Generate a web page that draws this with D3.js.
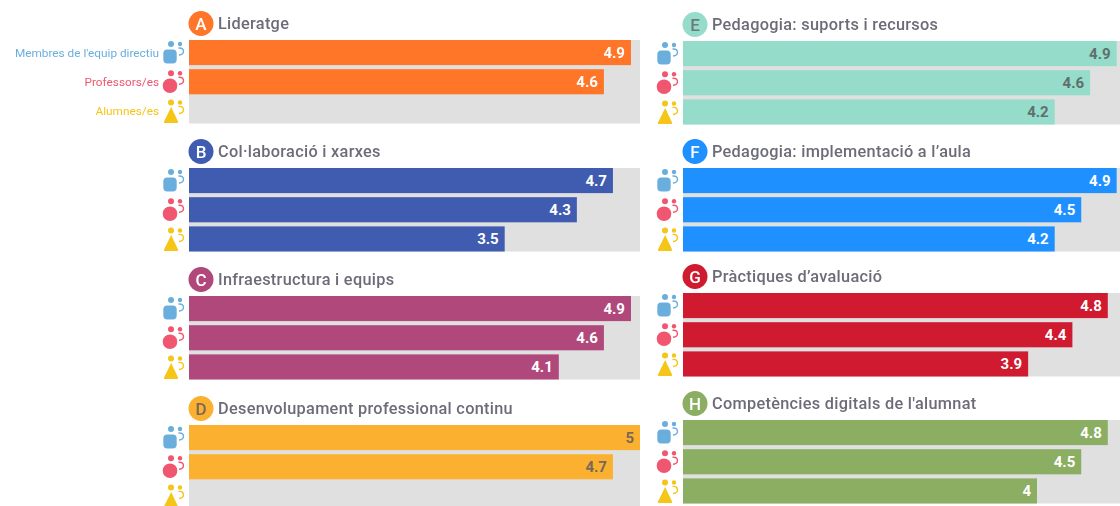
<!DOCTYPE html>
<html lang="en">
<head>
    <meta charset="UTF-8">
    <title>Resultats per àrea</title>
    <script src="https://d3js.org/d3.v7.min.js"></script>
    <style>
        html, body { margin: 0; padding: 0; background: #fff; overflow: hidden; }
        svg { display: block; filter: blur(0.45px); }
        text { font-family: Roboto, Arial, sans-serif; }
        .title { font-size: 16.3px; font-weight: 500; fill: #6c6c78; letter-spacing: 0.3px; }
        .letter { font-size: 17px; font-weight: 500; text-anchor: middle; }
        .value { font-size: 15px; font-weight: 700; text-anchor: end; }
        .role { font-size: 11.8px; text-anchor: end; }
    </style>
</head>
<body>
    <div id="chart"></div>
    <script>
        const width = 1120;
        const height = 506;

        const letters = ['A', 'B', 'C', 'D', 'E', 'F', 'G', 'H'];
        const titles = [
            'Lideratge',
            'Col·laboració i xarxes',
            'Infraestructura i equips',
            'Desenvolupament professional continu',
            'Pedagogia: suports i recursos',
            'Pedagogia: implementació a l’aula',
            'Pràctiques d’avaluació',
            'Competències digitals de l\'alumnat'
        ];
        const colors = ['#ff7629', '#3f5cb0', '#b0487c', '#fbb12f', '#95dccb', '#1e90ff', '#cf1a30', '#8bae63'];
        const letterColors = ['#fff', '#fff', '#fff', '#77685a', '#6b7a78', '#fff', '#fff', '#fff'];
        const labelColors = ['#fff', '#fff', '#fff', '#77685a', '#5f6f6b', '#fff', '#fff', '#fff'];

        const roles = ['Membres de l\'equip directiu', 'Professors/es', 'Alumnes/es'];
        const roleColors = ['#6aaede', '#f0566f', '#f5c518'];

        const directiu = [4.9, 4.7, 4.9, 5, 4.9, 4.9, 4.8, 4.8];
        const professorat = [4.6, 4.3, 4.6, 4.7, 4.6, 4.5, 4.4, 4.5];
        const alumnat = [null, 3.5, 4.1, null, 4.2, 4.2, 3.9, 4];
        const seriesValues = [directiu, professorat, alumnat];

        // panel layout: two columns, each group has its own top
        const groupTops = [40, 168, 296, 425, 41, 168, 293, 420];
        const panelH = 83.5;

        const xLeft = d3.scaleLinear().domain([0, 5]).range([189, 640]);
        const xRight = d3.scaleLinear().domain([0, 5]).range([683, 1125.5]);
        const row = d3.scaleBand().domain(d3.range(3)).range([0, panelH]).paddingInner(0.14);

        const svg = d3.select('#chart').append('svg')
            .attr('width', width)
            .attr('height', height);

        function drawIcon(g, i) {
            const c = roleColors[i];
            // small figure behind, thin outline
            g.append('circle').attr('cx', 5).attr('cy', -10.5).attr('r', 2.2).attr('fill', c);
            g.append('path')
                .attr('d', 'M3.5,-6.5 Q8.5,-7 8.5,-3 Q8.5,0 4,0.5')
                .attr('fill', 'none').attr('stroke', c).attr('stroke-width', 1.4);
            g.append('circle').attr('cx', -4).attr('cy', -10.5).attr('r', 3).attr('fill', c);
            if (i === 0) {
                g.append('rect').attr('x', -11.7).attr('y', -5).attr('width', 13.4).attr('height', 14).attr('rx', 4).attr('fill', c);
            } else if (i === 1) {
                g.append('circle').attr('cx', -5).attr('cy', 2).attr('r', 7.3).attr('fill', c);
            } else {
                g.append('path').attr('d', 'M-3.8,-6 L3,8.5 Q3.5,10 2,10 L-10,10 Q-11.5,10 -11,8.5 Z').attr('fill', c);
            }
        }

        letters.forEach((letter, k) => {
            const x = k < 4 ? xLeft : xRight;
            const left = x(0);
            const top = groupTops[k];
            const g = svg.append('g').attr('transform', `translate(0,${top})`);

            // grey track
            g.append('rect')
                .attr('x', left).attr('y', 0)
                .attr('width', x(5) - left).attr('height', panelH)
                .attr('fill', '#e0e0e0');

            // header badge and title
            g.append('circle').attr('cx', left + 12).attr('cy', -16.5).attr('r', 12.5).attr('fill', colors[k]);
            g.append('text').attr('class', 'letter')
                .attr('x', left + 12).attr('y', -10.5)
                .attr('fill', letterColors[k]).text(letter);
            g.append('text').attr('class', 'title')
                .attr('x', left + 29).attr('y', -11).text(titles[k]);

            seriesValues.forEach((values, i) => {
                const y = row(i);
                const icon = g.append('g')
                    .attr('transform', `translate(${left - 14},${y + row.bandwidth() / 2 + 2})`);
                drawIcon(icon, i);

                if (k === 0) {
                    g.append('text').attr('class', 'role')
                        .attr('x', left - 30).attr('y', y + row.bandwidth() / 2 + 4)
                        .attr('fill', roleColors[i]).text(roles[i]);
                }

                const v = values[k];
                if (v === null) return;
                g.append('rect')
                    .attr('x', left).attr('y', y)
                    .attr('width', x(v) - left).attr('height', row.bandwidth())
                    .attr('fill', colors[k]);
                g.append('text').attr('class', 'value')
                    .attr('x', x(v) - 6).attr('y', y + row.bandwidth() / 2 + 5.5)
                    .attr('fill', labelColors[k]).text(v);
            });
        });
    </script>
</body>
</html>
